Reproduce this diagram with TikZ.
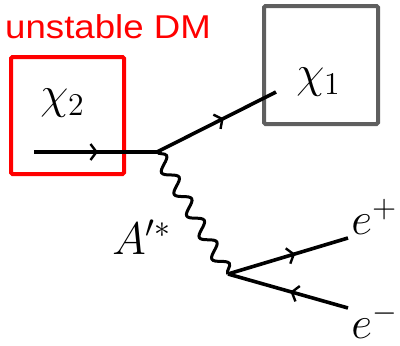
\documentclass[tikz,border=0pt]{standalone}
\usepackage{fontspec}
\newfontfamily\labelfont{Liberation Sans}
\usetikzlibrary{decorations.pathmorphing,decorations.markings,arrows.meta}
\setlength{\scriptspace}{0pt}
\definecolor{boxgray}{HTML}{5F5F5F}
\definecolor{dmred}{HTML}{FF0000}
\tikzset{
  fermion/.style={line width=3.6pt,postaction={decorate},
    decoration={markings,mark=at position #1 with {\arrow[line width=2.4pt]{Straight Barb[length=6pt,width=16pt]}}}},
  fermion/.default=0.5,
  photon/.style={line width=3pt,decorate,decoration={snake,segment length=25pt,amplitude=6.5pt}},
  boxframe/.style={draw,rectangle,line width=4pt,rounded corners=1.5pt,inner sep=0pt},
  mathlabel/.style={font=\huge,inner sep=0pt,scale=2.2}
}
\begin{document}
\begin{tikzpicture}[x=1pt,y=-1pt]
\useasboundingbox (0,0) rectangle (400,346);
\node[boxframe,draw=dmred,minimum width=113pt,minimum height=117pt] (redbox) at (67.5,115.5) {};
\node[boxframe,draw=boxgray,minimum width=114pt,minimum height=118pt] (graybox) at (321,65) {};
\node[text=dmred,font=\labelfont\fontsize{33}{33}\selectfont,anchor=base west,inner sep=0pt,xscale=1.11] (title) at (5,38) {unstable DM};
\node[mathlabel] (chitwo) at (62,103) {$\chi_2$};
\node[mathlabel] (chione) at (318,82) {$\chi_1$};
\node[mathlabel,anchor=base west] (aprime) at (112,254) {$A'^{*}$};
\node[mathlabel,anchor=base west] (eplus) at (351,234) {$e^{+}$};
\node[mathlabel,anchor=base west] (eminus) at (351,338) {$e^{-}$};
\coordinate (in) at (34,152);
\coordinate (v1) at (157,152);
\coordinate (out1) at (276,92);
\coordinate (v2) at (228,274);
\coordinate (ep) at (348,238);
\coordinate (em) at (348,308);
\draw[fermion=0.52] (in) -- (v1);
\draw[fermion=0.56] (v1) -- (out1);
\draw[photon] (v1) -- (v2);
\draw[fermion=0.56] (v2) -- (ep);
\draw[fermion=0.48] (em) -- (v2);
\end{tikzpicture}
\end{document}
